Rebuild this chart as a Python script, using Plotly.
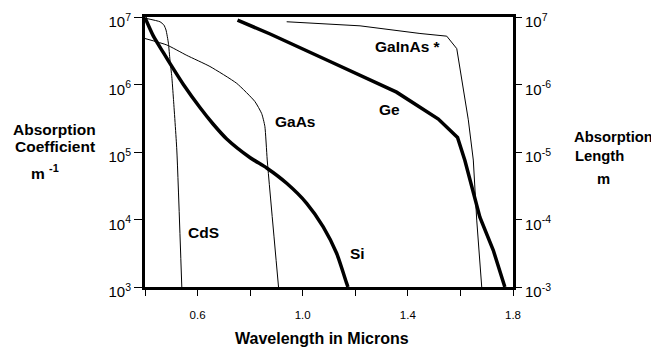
import math
import plotly.graph_objects as go

# ---- data (wavelength in microns, absorption coefficient in m^-1) ----
cds_x = [0.400, 0.457, 0.472, 0.480, 0.489, 0.495, 0.502, 0.508, 0.521, 0.540]
cds_y = [9.6e6, 8.5e6, 7.6e6, 6.4e6, 4.1e6, 2.3e6, 1.3e6, 6.3e5, 1.07e5, 1.0e3]

gaas_x = [0.400, 0.483, 0.559, 0.647, 0.749, 0.818, 0.844, 0.856, 0.865, 0.908]
gaas_y = [4.8e6, 3.85e6, 2.7e6, 1.85e6, 1.04e6, 5.6e5, 3.7e5, 2.4e5, 7.6e4, 1.0e3]

si_x = [0.400, 0.432, 0.470, 0.508, 0.546, 0.609, 0.659, 0.711, 0.799, 0.863, 0.939, 1.015, 1.078, 1.129, 1.167, 1.172]
si_y = [9.8e6, 5.2e6, 2.96e6, 1.70e6, 1.0e6, 4.56e5, 2.60e5, 1.56e5, 8.3e4, 5.8e4, 3.44e4, 1.74e4, 7.8e3, 3.16e3, 1.14e3, 1.0e3]

ge_x = [0.752, 0.876, 1.104, 1.357, 1.516, 1.589, 1.617, 1.649, 1.674, 1.725, 1.769]
ge_y = [9.0e6, 5.6e6, 2.19e6, 7.7e5, 3.08e5, 1.64e5, 7.5e4, 2.4e4, 1.08e4, 3.5e3, 1.0e3]

gainas_x = [0.939, 1.142, 1.218, 1.446, 1.548, 1.586, 1.611, 1.630, 1.649, 1.662, 1.681]
gainas_y = [8.5e6, 7.6e6, 7.4e6, 5.7e6, 5.2e6, 3.4e6, 8.3e5, 3.0e5, 7.6e4, 9.8e3, 1.0e3]

x_ticks = [0.4, 0.6, 0.8, 1.0, 1.2, 1.4, 1.6, 1.8]
x_ticktext = ["", "0.6", "", "1.0", "", "1.4", "", "1.8"]
y_ticks = [1e3, 1e4, 1e5, 1e6, 1e7]
y_left_text = ["10<sup>3</sup>", "10<sup>4</sup>", "10<sup>5</sup>", "10<sup>6</sup>", "10<sup>7</sup>"]
y_right_text = ["10<sup>-3</sup>", "10<sup>-4</sup>", "10<sup>-5</sup>", "10<sup>-6</sup>", "10<sup>7</sup>"]

curve_labels = ["CdS", "GaAs", "Si", "Ge", "GaInAs *"]
label_x = [0.622, 0.972, 1.208, 1.330, 1.400]
label_y = [6.5e3, 2.8e5, 3.1e3, 4.2e5, 3.7e6]

FONT = "Arial, Liberation Sans, sans-serif"

fig = go.Figure()
thin_s = dict(color="black", width=1, shape="spline", smoothing=0.5)
thin = dict(color="black", width=1)
thick_s = dict(color="black", width=3.5, shape="spline", smoothing=0.6)
thick = dict(color="black", width=3.5)
fig.add_trace(go.Scatter(x=cds_x, y=cds_y, mode="lines", line=thin_s, name="CdS"))
fig.add_trace(go.Scatter(x=gaas_x, y=gaas_y, mode="lines", line=thin_s, name="GaAs"))
fig.add_trace(go.Scatter(x=gainas_x, y=gainas_y, mode="lines", line=thin, name="GaInAs"))
fig.add_trace(go.Scatter(x=si_x, y=si_y, mode="lines", line=thick_s, name="Si"))
fig.add_trace(go.Scatter(x=ge_x, y=ge_y, mode="lines", line=thick, name="Ge"))
# invisible trace to anchor the right axis
fig.add_trace(go.Scatter(x=[1.0], y=[1e5], yaxis="y2", mode="markers",
                         marker=dict(opacity=0), hoverinfo="skip", showlegend=False))

for t, xx, yy in zip(curve_labels, label_x, label_y):
    fig.add_annotation(x=xx, y=math.log10(yy), xref="x", yref="y",
                       text="<b>%s</b>" % t, showarrow=False,
                       font=dict(family=FONT, size=15.5, color="black"))

# axis titles as annotations
def ann(text, x, y, xanchor="center", size=15.5):
    fig.add_annotation(x=x, y=y, xref="paper", yref="paper", text=text, showarrow=False,
                       xanchor=xanchor, yanchor="middle",
                       font=dict(family=FONT, size=size, color="black"))

ann("<b>Wavelength in Microns</b>", 0.480, -0.189, size=16)
ann("<b>Absorption</b>", -0.2446, 0.585)
ann("<b>Coefficient</b>", -0.2446, 0.522)
ann("<b>m <sup>-1</sup></b>", -0.2717, 0.426)
ann("<b>Absorption</b>", 1.160, 0.556, xanchor="left", size=14.8)
ann("<b>Length</b>", 1.163, 0.484, xanchor="left", size=14.8)
ann("<b>m</b>", 1.223, 0.400, xanchor="left", size=14.8)

# page body has an 8px default margin, so the figure is sized 8px smaller
fig.update_layout(
    width=651, height=341,
    margin=dict(l=137, r=146, t=9, b=62),
    paper_bgcolor="white", plot_bgcolor="white",
    showlegend=False,
    font=dict(family=FONT, color="black"),
    xaxis=dict(range=[0.4, 1.8], tickvals=x_ticks, ticktext=x_ticktext,
               ticks="outside", ticklen=6, tickwidth=1, tickcolor="black",
               showline=True, linewidth=3, linecolor="black", mirror=True,
               showgrid=False, zeroline=False, ticklabelstandoff=9,
               tickfont=dict(size=11.5), automargin=False, ticklabeloverflow="allow"),
    yaxis=dict(type="log", range=[3, 7], tickvals=y_ticks, ticktext=y_left_text,
               ticks="outside", ticklen=8, tickwidth=1, tickcolor="black",
               showline=True, linewidth=3, linecolor="black", mirror=True,
               showgrid=False, zeroline=False, tickfont=dict(size=15),
               automargin=False, ticklabeloverflow="allow", ticklabelshift=5),
    yaxis2=dict(type="log", range=[3, 7], tickvals=y_ticks, ticktext=y_right_text,
                overlaying="y", side="right", ticks="outside", ticklen=8, tickwidth=1,
                tickcolor="black", showline=False, showgrid=False, zeroline=False,
                tickfont=dict(size=15), automargin=False, ticklabeloverflow="allow",
                ticklabelshift=5),
)

fig.write_html("out.html")
